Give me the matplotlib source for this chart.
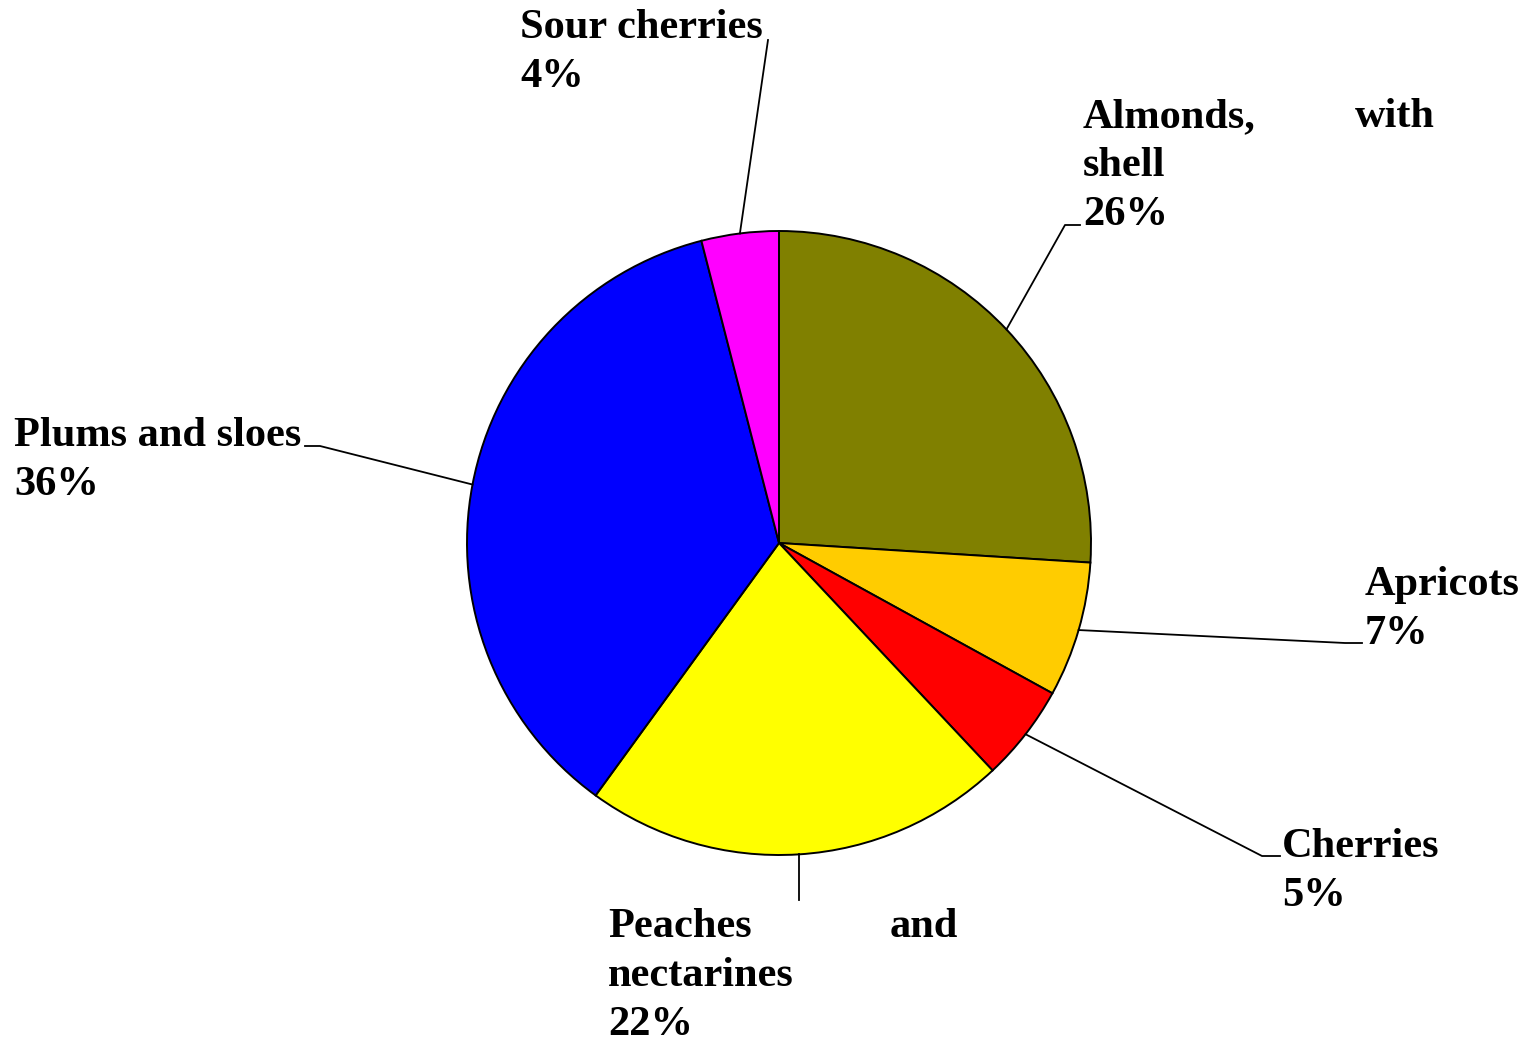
import numpy as np
import matplotlib
matplotlib.use("Agg")
import matplotlib.pyplot as plt

# fruit shares, clockwise from 12 o'clock
labels = ["Almonds, with shell", "Apricots", "Cherries",
          "Peaches and nectarines", "Plums and sloes", "Sour cherries"]
shares = [26, 7, 5, 22, 36, 4]
colors = ["#808000", "#FFCC00", "#FF0000", "#FFFF00", "#0000FF", "#FF00FF"]

W, H = 1531, 1041
fig = plt.figure(figsize=(W / 100, H / 100), dpi=100)
ax = fig.add_axes([0, 0, 1, 1])

cx, cy, r = 779, H - 543, 312
ax.pie(shares, colors=colors, startangle=90, counterclock=False,
       center=(cx, cy), radius=r, frame=True,
       wedgeprops=dict(edgecolor="black", linewidth=1.4))
ax.set_xlim(0, W)
ax.set_ylim(0, H)
ax.axis("off")

# mid angle of each wedge -> point on the rim
frac = np.array(shares) / sum(shares)
ends = 90 - 360 * np.cumsum(frac)
mids = ends + 180 * frac
rim = [(cx + r * np.cos(np.radians(a)), cy + r * np.sin(np.radians(a))) for a in mids]

font = dict(fontsize=30.5, fontweight="bold", family="Liberation Serif",
            va="baseline")
step = 49

# label layout: (x, first baseline, lines, leader bend, leader end)
layout = [
    (1083, 127, [("Almonds,", "with", 1435), "shell", "26%"], (1065, 225), (1080, 225)),
    (1365, 595, ["Apricots", "7%"], (1345, 643), (1362, 643)),
    (1282, 857, ["Cherries", "5%"], (1262, 856), (1280, 856)),
    (608, 937, [("Peaches", "and", 958), "nectarines", "22%"], None, (None, 900)),
    (14, 446, ["Plums and sloes", "36%"], (320, 446), (305, 446)),
    (520, 38, ["Sour cherries", "4%"], None, (768, 40)),
]

for (x, y0, lines, bend, end), (px, py) in zip(layout, rim):
    for i, ln in enumerate(lines):
        yb = H - (y0 + i * step)
        if isinstance(ln, tuple):
            ax.text(x, yb, ln[0], ha="left", **font)
            ax.text(ln[2], yb, ln[1], ha="right", **font)
        else:
            ax.text(x, yb, ln, ha="left", **font)
    ex = px if end[0] is None else end[0]
    pts = [(px, py)]
    if bend is not None:
        pts.append((bend[0], H - bend[1]))
    pts.append((ex, H - end[1]))
    xs, ys = zip(*pts)
    ax.plot(xs, ys, color="black", linewidth=1.3)

fig.savefig("out.png", dpi=100)
